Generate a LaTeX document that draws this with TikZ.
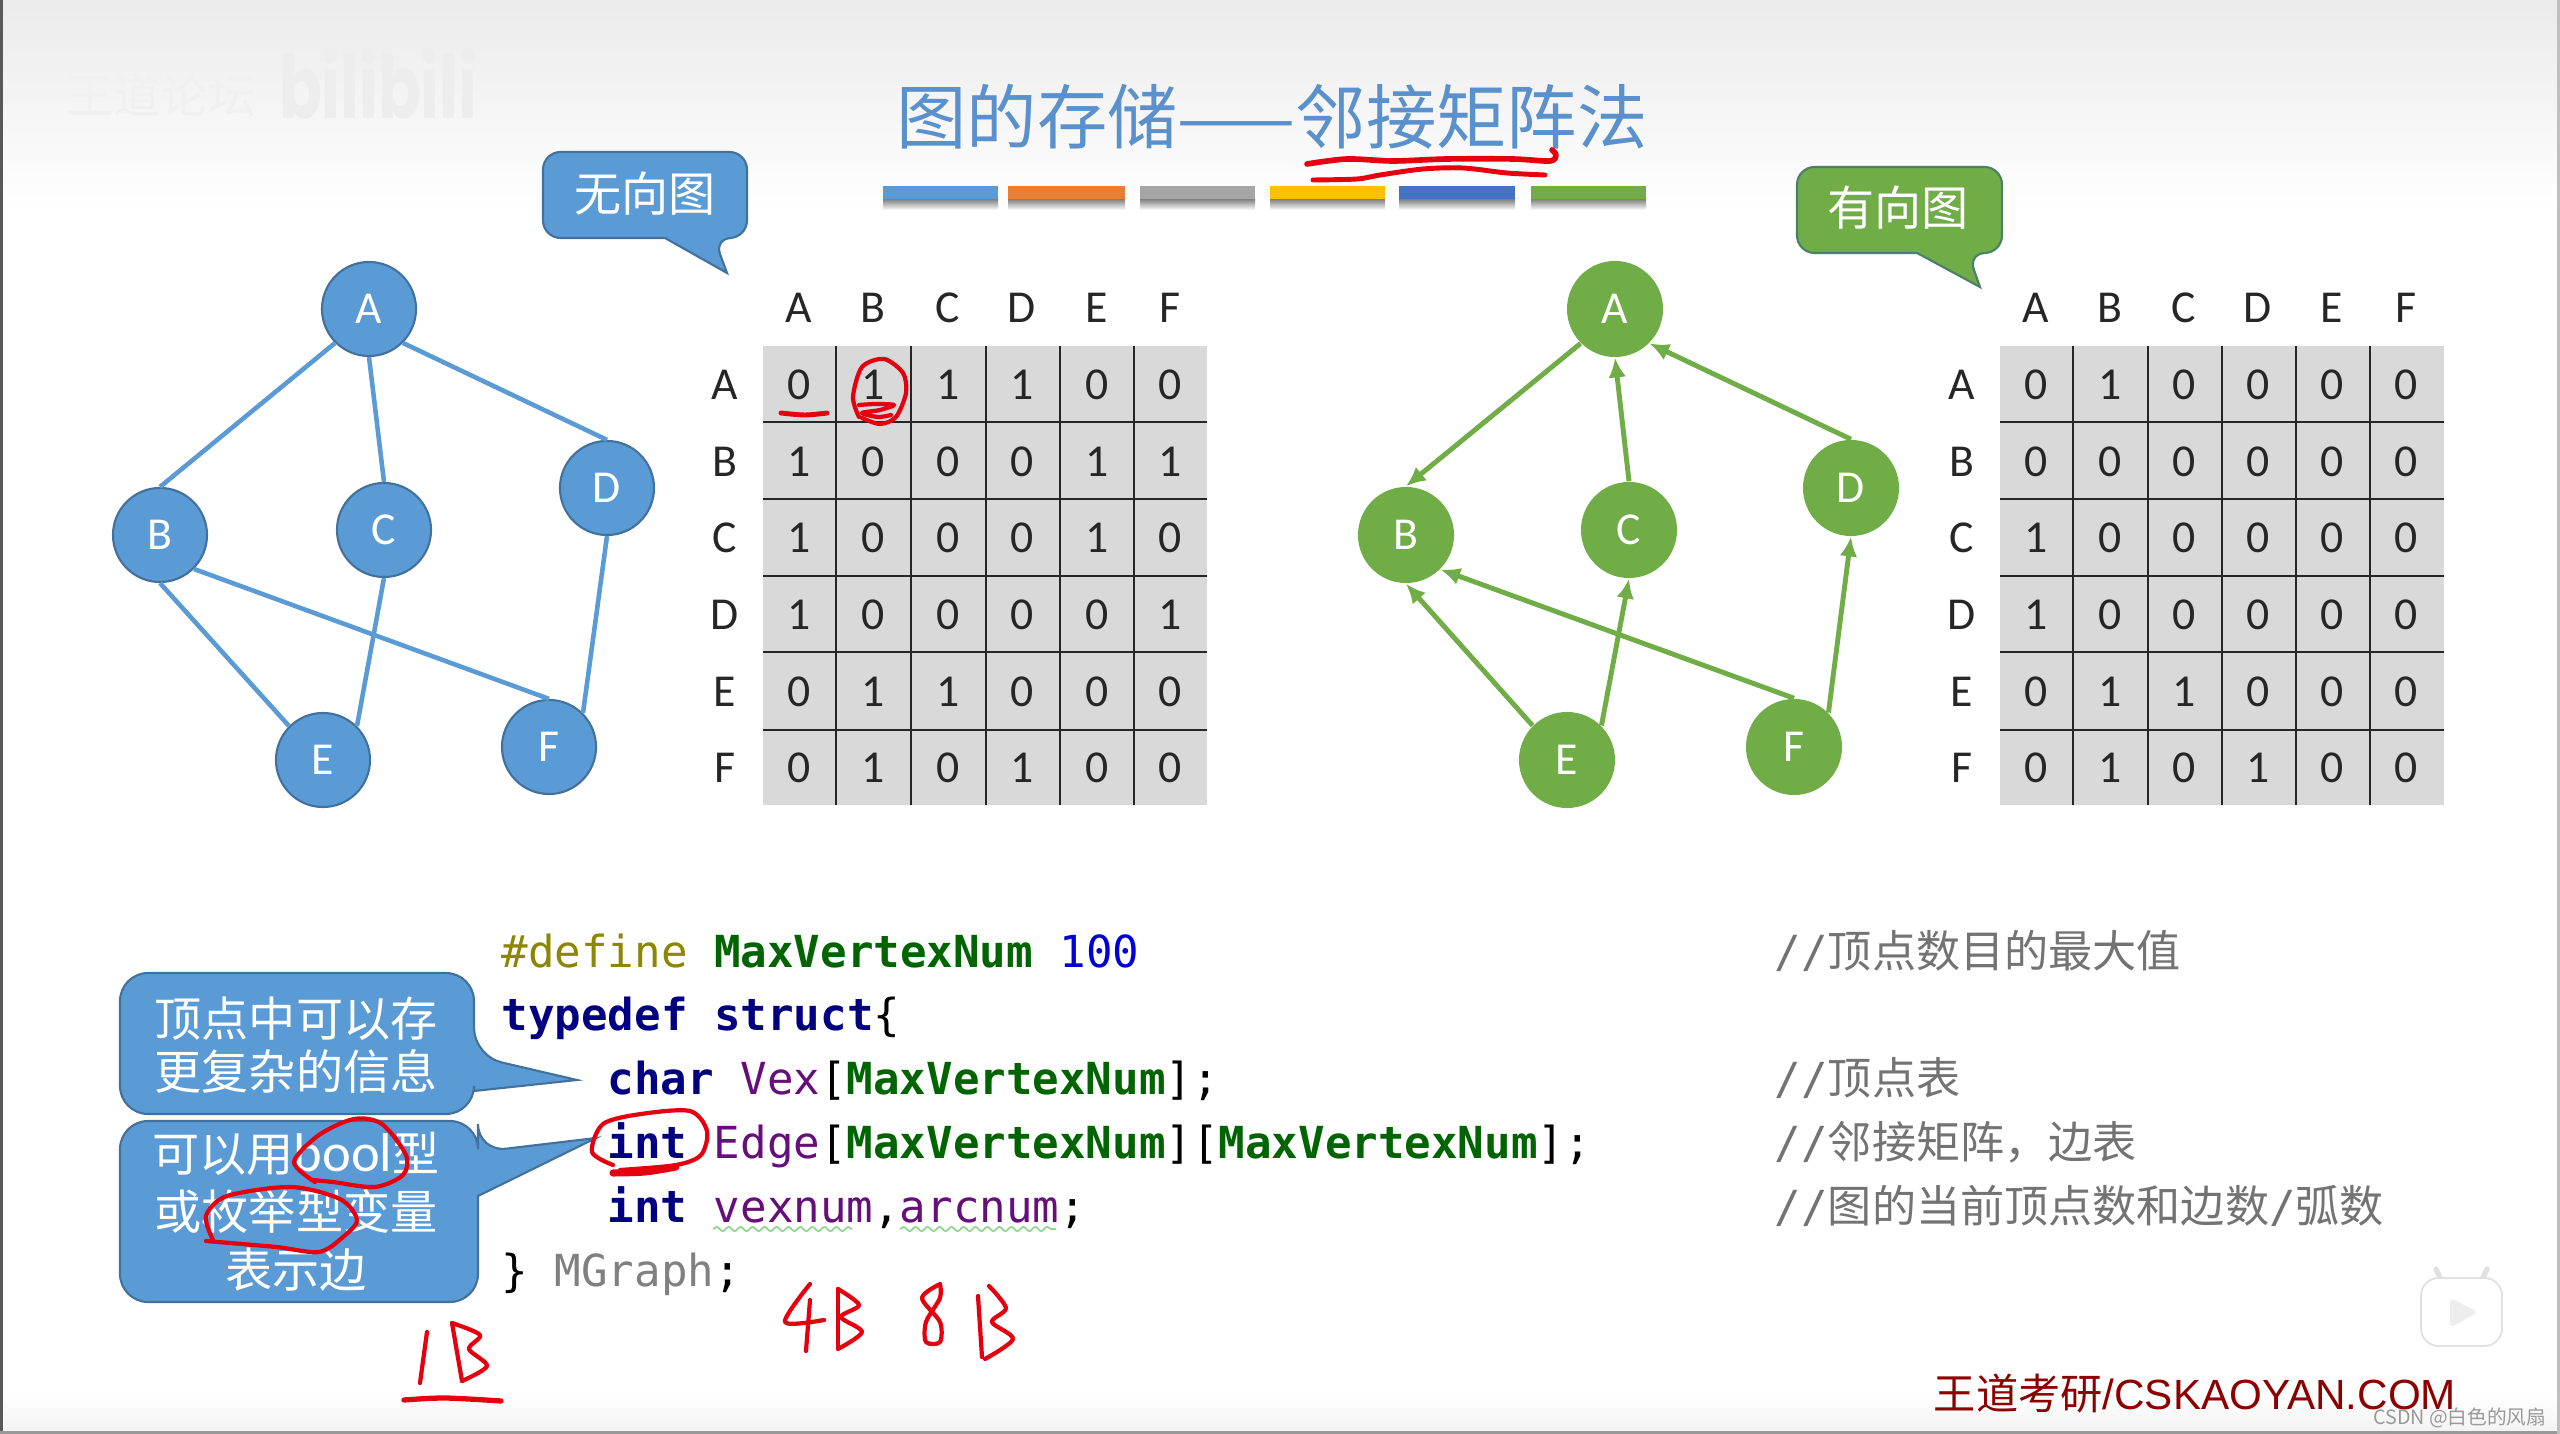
\documentclass[tikz,border=0pt]{standalone}
\usepackage{fontspec}
\setmainfont{Carlito}
\setmonofont{DejaVu Sans Mono}
\newfontfamily\cjk{Noto Sans CJK SC}
\usetikzlibrary{arrows.meta,decorations.pathmorphing}
\definecolor{bluefill}{HTML}{5B9BD5}
\definecolor{blueline}{HTML}{41719C}
\definecolor{greenfill}{HTML}{70AD47}
\definecolor{greenline}{HTML}{4A7F68}
\definecolor{barorange}{HTML}{ED7D31}
\definecolor{bargray}{HTML}{A5A5A5}
\definecolor{baryellow}{HTML}{FFC000}
\definecolor{bardeep}{HTML}{4472C4}
\definecolor{titleblue}{HTML}{5A91CC}
\definecolor{cellgray}{HTML}{D9D9D9}
\definecolor{inkred}{HTML}{E6000F}
\definecolor{kwblue}{HTML}{000080}
\definecolor{macgreen}{HTML}{006400}
\definecolor{varpurple}{HTML}{660E7A}
\newcommand{\kw}[1]{\textcolor{kwblue}{\textbf{#1}}}
\newcommand{\mac}[1]{\textcolor{macgreen}{\textbf{#1}}}
\newcommand{\var}[1]{\textcolor{varpurple}{#1}}
\tikzset{
  ublue/.style={circle,draw=blueline,line width=0.6pt,fill=bluefill,text=white,minimum size=0.94cm,inner sep=0pt,font=\fontsize{13}{15}\selectfont},
  ugreen/.style={circle,fill=greenfill,text=white,minimum size=0.96cm,inner sep=0pt,font=\fontsize{13}{15}\selectfont},
  bedge/.style={draw=bluefill,line width=1.3pt},
  gedge/.style={draw=greenfill,line width=1.4pt,-{Latex[length=5.6pt,width=5pt]}},
  cell/.style={text=black!85,inner sep=0pt,font=\fontsize{13}{15}\selectfont},
  gridline/.style={draw=black!85,line width=0.8pt},
  code/.style={anchor=base west,inner sep=0pt,font=\ttfamily\fontsize{12.55}{15}\selectfont},
  note/.style={anchor=base west,inner sep=0pt,text=black!55,font=\fontsize{12.55}{15}\selectfont},
  calltext/.style={text=white,inner sep=0pt,align=center,font=\cjk\fontsize{13.4}{15}\selectfont},
  redink/.style={draw=inkred,line width=1.4pt,line cap=round,line join=round},
  wavy/.style={draw=green!45!gray!60,line width=0.5pt,decorate,decoration={snake,amplitude=0.6pt,segment length=3.4pt}}
}
\begin{document}
\begin{tikzpicture}[x=0.01cm,y=-0.01cm]
\useasboundingbox (0,0) rectangle (2560,1434);
\fill[white] (0,0) rectangle (2560,1434);
\shade[top color=black!8,bottom color=white] (0,0) rectangle (2560,210);
\shade[top color=white,bottom color=black!5] (0,1395) rectangle (2560,1434);
\fill[black!65] (0,0) rectangle (3,1434);
\fill[black!40] (0,1431) rectangle (2560,1434);
\fill[black!25] (2557,0) rectangle (2560,1434);

\node[inner sep=0pt,text=black!6,font=\cjk\fontsize{13.5}{15}\selectfont] (mark1) at (161,95) {王道论坛};
\node[inner sep=0pt,text=black!7,xscale=0.72,font=\fontspec{Poppins}\bfseries\fontsize{25}{28}\selectfont] (mark2) at (378,84) {bilibili};

\node[inner sep=0pt,text=titleblue,font=\cjk\fontsize{20}{22}\selectfont] (title) at (1272,117) {图的存储——邻接矩阵法};
\shade[top color=black!50,bottom color=white] (883,199) rectangle (998,210);
\shade[top color=black!50,bottom color=white] (1008,199) rectangle (1125,210);
\shade[top color=black!50,bottom color=white] (1140,199) rectangle (1255,210);
\shade[top color=black!50,bottom color=white] (1270,199) rectangle (1385,210);
\shade[top color=black!50,bottom color=white] (1399,199) rectangle (1515,210);
\shade[top color=black!50,bottom color=white] (1531,199) rectangle (1646,210);
\fill[bluefill] (883,186) rectangle (998,199);
\fill[barorange] (1008,186) rectangle (1125,199);
\fill[bargray] (1140,186) rectangle (1255,199);
\fill[baryellow] (1270,186) rectangle (1385,199);
\fill[bardeep] (1399,186) rectangle (1515,199);
\fill[greenfill] (1531,186) rectangle (1646,199);

\draw[redink,line width=1.6pt] plot[smooth] coordinates {(1307,164) (1347,159) (1393,161) (1447,159) (1513,159) (1550,161) (1556,155) (1552,150)};
\draw[redink] plot[smooth] coordinates {(1313,180) (1357,179) (1380,175) (1423,169) (1463,168) (1507,173) (1545,175)};

\draw[fill=bluefill,draw=blueline,line width=0.6pt,rounded corners=5pt] (543,152) -- (747,152) -- (747,238) -- (714,238) [sharp corners] -- (727,273) -- (665,238) [rounded corners=5pt] -- (543,238) -- cycle;
\node[calltext] (calla) at (645,194) {无向图};
\draw[fill=greenfill,draw=greenline,line width=0.6pt,rounded corners=5pt] (1797,167) -- (2002,167) -- (2002,253) -- (1968,253) [sharp corners] -- (1980,287) -- (1917,253) [rounded corners=5pt] -- (1797,253) -- cycle;
\node[calltext] (callb) at (1898,208) {有向图};

\node[ublue] (ua) at (369,309) {A};
\node[ublue] (ub) at (160,535) {B};
\node[ublue] (uc) at (384,530) {C};
\node[ublue] (ud) at (607,488) {D};
\node[ublue] (ue) at (323,760) {E};
\node[ublue] (uf) at (549,747) {F};
\draw[bedge] (ua.south west) -- (ub.north);
\draw[bedge] (ua.south) -- (uc.north);
\draw[bedge] (ua.south east) -- (ud.north);
\draw[bedge] (ub.south east) -- (uf.north);
\draw[bedge] (ub.south) -- (ue.north west);
\draw[bedge] (uc.south) -- (ue.north east);
\draw[bedge] (ud.south) -- (uf.north east);

\node[ugreen] (da) at (1615,309) {A};
\node[ugreen] (db) at (1406,535) {B};
\node[ugreen] (dc) at (1629,530) {C};
\node[ugreen] (dd) at (1851,488) {D};
\node[ugreen] (de) at (1567,760) {E};
\node[ugreen] (df) at (1794,747) {F};
\draw[gedge] (da.south west) -- (db.north);
\draw[gedge] (dc.north) -- (da.south);
\draw[gedge] (dd.north) -- (da.south east);
\draw[gedge] (df.north) -- (db.south east);
\draw[gedge] (de.north west) -- (db.south);
\draw[gedge] (de.north east) -- (dc.south);
\draw[gedge] (df.north east) -- (dd.south);

\fill[cellgray] (763,346) rectangle (1207,805);
\draw[gridline] (763,422) -- (1207,422);
\draw[gridline] (763,499) -- (1207,499);
\draw[gridline] (763,576) -- (1207,576);
\draw[gridline] (763,652) -- (1207,652);
\draw[gridline] (763,730) -- (1207,730);
\draw[gridline] (836,346) -- (836,805);
\draw[gridline] (911,346) -- (911,805);
\draw[gridline] (986,346) -- (986,805);
\draw[gridline] (1060,346) -- (1060,805);
\draw[gridline] (1134,346) -- (1134,805);
\node[cell] (lca) at (799,308) {A}; \node[cell] (lcb) at (873,308) {B}; \node[cell] (lcc) at (948,308) {C}; \node[cell] (lcd) at (1022,308) {D}; \node[cell] (lce) at (1097,308) {E}; \node[cell] (lcf) at (1170,308) {F};
\node[cell] (lra) at (725,385) {A}; \node[cell] (la1) at (799,385) {0}; \node[cell] (la2) at (873,385) {1}; \node[cell] (la3) at (948,385) {1}; \node[cell] (la4) at (1022,385) {1}; \node[cell] (la5) at (1097,385) {0}; \node[cell] (la6) at (1170,385) {0};
\node[cell] (lrb) at (725,462) {B}; \node[cell] (lb1) at (799,462) {1}; \node[cell] (lb2) at (873,462) {0}; \node[cell] (lb3) at (948,462) {0}; \node[cell] (lb4) at (1022,462) {0}; \node[cell] (lb5) at (1097,462) {1}; \node[cell] (lb6) at (1170,462) {1};
\node[cell] (lrc) at (725,538) {C}; \node[cell] (lc1) at (799,538) {1}; \node[cell] (lc2) at (873,538) {0}; \node[cell] (lc3) at (948,538) {0}; \node[cell] (lc4) at (1022,538) {0}; \node[cell] (lc5) at (1097,538) {1}; \node[cell] (lc6) at (1170,538) {0};
\node[cell] (lrd) at (725,615) {D}; \node[cell] (ld1) at (799,615) {1}; \node[cell] (ld2) at (873,615) {0}; \node[cell] (ld3) at (948,615) {0}; \node[cell] (ld4) at (1022,615) {0}; \node[cell] (ld5) at (1097,615) {0}; \node[cell] (ld6) at (1170,615) {1};
\node[cell] (lre) at (725,692) {E}; \node[cell] (le1) at (799,692) {0}; \node[cell] (le2) at (873,692) {1}; \node[cell] (le3) at (948,692) {1}; \node[cell] (le4) at (1022,692) {0}; \node[cell] (le5) at (1097,692) {0}; \node[cell] (le6) at (1170,692) {0};
\node[cell] (lrf) at (725,768) {F}; \node[cell] (lf1) at (799,768) {0}; \node[cell] (lf2) at (873,768) {1}; \node[cell] (lf3) at (948,768) {0}; \node[cell] (lf4) at (1022,768) {1}; \node[cell] (lf5) at (1097,768) {0}; \node[cell] (lf6) at (1170,768) {0};

\fill[cellgray] (2000,346) rectangle (2444,805);
\draw[gridline] (2000,422) -- (2444,422);
\draw[gridline] (2000,499) -- (2444,499);
\draw[gridline] (2000,576) -- (2444,576);
\draw[gridline] (2000,652) -- (2444,652);
\draw[gridline] (2000,730) -- (2444,730);
\draw[gridline] (2073,346) -- (2073,805);
\draw[gridline] (2148,346) -- (2148,805);
\draw[gridline] (2222,346) -- (2222,805);
\draw[gridline] (2296,346) -- (2296,805);
\draw[gridline] (2370,346) -- (2370,805);
\node[cell] (rca) at (2036,308) {A}; \node[cell] (rcb) at (2110,308) {B}; \node[cell] (rcc) at (2184,308) {C}; \node[cell] (rcd) at (2258,308) {D}; \node[cell] (rce) at (2332,308) {E}; \node[cell] (rcf) at (2406,308) {F};
\node[cell] (rra) at (1962,385) {A}; \node[cell] (ra1) at (2036,385) {0}; \node[cell] (ra2) at (2110,385) {1}; \node[cell] (ra3) at (2184,385) {0}; \node[cell] (ra4) at (2258,385) {0}; \node[cell] (ra5) at (2332,385) {0}; \node[cell] (ra6) at (2406,385) {0};
\node[cell] (rrb) at (1962,462) {B}; \node[cell] (rb1) at (2036,462) {0}; \node[cell] (rb2) at (2110,462) {0}; \node[cell] (rb3) at (2184,462) {0}; \node[cell] (rb4) at (2258,462) {0}; \node[cell] (rb5) at (2332,462) {0}; \node[cell] (rb6) at (2406,462) {0};
\node[cell] (rrc) at (1962,538) {C}; \node[cell] (rc1) at (2036,538) {1}; \node[cell] (rc2) at (2110,538) {0}; \node[cell] (rc3) at (2184,538) {0}; \node[cell] (rc4) at (2258,538) {0}; \node[cell] (rc5) at (2332,538) {0}; \node[cell] (rc6) at (2406,538) {0};
\node[cell] (rrd) at (1962,615) {D}; \node[cell] (rd1) at (2036,615) {1}; \node[cell] (rd2) at (2110,615) {0}; \node[cell] (rd3) at (2184,615) {0}; \node[cell] (rd4) at (2258,615) {0}; \node[cell] (rd5) at (2332,615) {0}; \node[cell] (rd6) at (2406,615) {0};
\node[cell] (rre) at (1962,692) {E}; \node[cell] (re1) at (2036,692) {0}; \node[cell] (re2) at (2110,692) {1}; \node[cell] (re3) at (2184,692) {1}; \node[cell] (re4) at (2258,692) {0}; \node[cell] (re5) at (2332,692) {0}; \node[cell] (re6) at (2406,692) {0};
\node[cell] (rrf) at (1962,768) {F}; \node[cell] (rf1) at (2036,768) {0}; \node[cell] (rf2) at (2110,768) {1}; \node[cell] (rf3) at (2184,768) {0}; \node[cell] (rf4) at (2258,768) {1}; \node[cell] (rf5) at (2332,768) {0}; \node[cell] (rf6) at (2406,768) {0};

\draw[redink] plot[smooth] coordinates {(781,413) (805,415) (827,413)};
\draw[redink,line width=1.2pt] plot[smooth] coordinates {(859,417) (853,397) (862,367) (884,359) (903,373) (906,393) (896,417) (880,424) (862,418)};
\draw[redink,line width=1.2pt] plot[smooth] coordinates {(859,405) (876,404) (894,405) (880,410) (862,413) (878,417) (891,415)};

\node[code] (line1) at (501,967) {\textcolor{olive}{\#define} \mac{MaxVertexNum} \textcolor{blue!85!black}{100}};
\node[code] (line2) at (501,1030) {\kw{typedef} \kw{struct}\{};
\node[code] (line3) at (607,1094) {\kw{char} \var{Vex}[\mac{MaxVertexNum}];};
\node[code] (line4) at (607,1158) {\kw{int} \var{Edge}[\mac{MaxVertexNum}][\mac{MaxVertexNum}];};
\node[code] (line5) at (607,1222) {\kw{int} \var{vexnum},\var{arcnum};};
\node[code] (line6) at (501,1286) {\} \textcolor{black!50}{MGraph};};
\draw[wavy] (713,1229) -- (852,1229);
\draw[wavy] (900,1229) -- (1056,1229);

\node[note] (note1) at (1774,967) {{\ttfamily //}{\cjk 顶点数目的最大值}};
\node[note] (note3) at (1774,1094) {{\ttfamily //}{\cjk 顶点表}};
\node[note] (note4) at (1774,1158) {{\ttfamily //}{\cjk 邻接矩阵，边表}};
\node[note] (note5) at (1774,1222) {{\ttfamily //}{\cjk 图的当前顶点数和边数}{\ttfamily /}{\cjk 弧数}};

\draw[fill=bluefill,draw=blueline,line width=0.6pt,rounded corners=8pt] (120,973) -- (474,973) -- (474,1056) [sharp corners] -- (577,1080) -- (474,1091) [rounded corners=8pt] -- (474,1114) -- (120,1114) -- cycle;
\node[calltext] (call1) at (296,1045) {顶点中可以存\\更复杂的信息};
\draw[fill=bluefill,draw=blueline,line width=0.6pt,rounded corners=8pt] (120,1121) -- (478,1121) -- (478,1152) [sharp corners] -- (596,1138) -- (478,1196) [rounded corners=8pt] -- (478,1302) -- (120,1302) -- cycle;
\node[calltext,font=\cjk\fontsize{13.4}{16.5}\selectfont] (call2) at (296,1212) {可以用{\rmfamily\fontsize{15.5}{16.5}\selectfont bool}型\\或枚举型变量\\表示边};

\draw[redink,line width=1.2pt] plot[smooth] coordinates {(613,1165) (592,1152) (603,1124) (641,1114) (690,1111) (707,1131) (701,1155) (676,1165) (620,1170)};
\draw[redink,line width=2pt] plot[smooth] coordinates {(613,1173) (645,1172) (676,1167)};
\draw[redink,line width=1.2pt] plot[smooth] coordinates {(315,1182) (294,1162) (319,1135) (354,1119) (382,1124) (406,1155) (403,1175) (375,1187) (333,1182) (312,1180)};
\draw[redink,line width=1.2pt] plot[smooth] coordinates {(213,1240) (206,1216) (227,1196) (291,1187) (340,1199) (357,1220) (343,1237) (319,1252) (276,1247) (206,1241)};

\draw[redink,line width=1.2pt] (427,1332) -- (420,1383);
\draw[redink,line width=1.2pt] (452,1323) -- (462,1381);
\draw[redink,line width=1.2pt] plot[smooth] coordinates {(452,1323) (480,1335) (469,1349) (487,1366) (462,1381)};
\draw[redink,line width=1.5pt] plot[smooth] coordinates {(404,1400) (445,1398) (501,1401)};
\draw[redink,line width=1.2pt] plot[smooth] coordinates {(810,1284) (785,1322) (824,1320)};
\draw[redink,line width=1.2pt] (810,1300) -- (806,1351);
\draw[redink,line width=1.2pt] (838,1289) -- (838,1347);
\draw[redink,line width=1.2pt] plot[smooth] coordinates {(838,1289) (859,1305) (841,1317) (862,1332) (838,1349)};
\draw[redink,line width=1.2pt] plot[smooth] coordinates {(940,1284) (922,1298) (940,1322) (940,1342) (926,1342) (926,1322) (940,1298) (940,1284)};
\draw[redink,line width=1.2pt] (978,1296) -- (982,1357);
\draw[redink,line width=1.2pt] plot[smooth] coordinates {(989,1286) (1006,1308) (992,1322) (1013,1339) (985,1359)};

\node[inner sep=0pt,text=red!55!black,font=\fontsize{12}{14}\selectfont] (site) at (2195,1393) {{\cjk 王道考研}{\fontspec{Liberation Sans}/CSKAOYAN.COM}};
\node[anchor=east,inner sep=0pt,text=black!40,font=\cjk\fontsize{5.6}{8}\selectfont] (csdn) at (2547,1418) {CSDN @白色的风扇};

\draw[black!12,fill=white,line width=1.5pt,line cap=round] (2441,1280) -- (2436,1269);
\draw[black!12,fill=white,line width=1.5pt,line cap=round] (2482,1280) -- (2487,1269);
\draw[black!12,fill=white,line width=0.5pt,rounded corners=5pt] (2421,1278) rectangle (2502,1346);
\fill[black!7,rounded corners=1.5pt] (2450,1298) -- (2478,1312) -- (2450,1328) -- cycle;
\end{tikzpicture}
\end{document}
